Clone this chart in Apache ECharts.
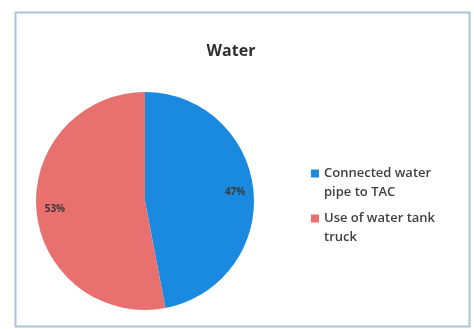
<!DOCTYPE html>
<html><head><meta charset="utf-8">
<script src="https://cdn.jsdelivr.net/npm/echarts@6/dist/echarts.min.js"></script>
<style>html,body{margin:0;padding:0;background:#fff}#c{width:474px;height:329px}</style>
</head><body><div id="c"></div>
<script>
var titleText = 'Water';
var categories = ['Connected water\npipe to TAC', 'Use of water tank\ntruck'];
var values = [47, 53];
var colors = ['#1a8ae0', '#e8716f'];

var chart = echarts.init(document.getElementById('c'), null, {renderer: 'canvas'});
var data = categories.map(function (c, i) { return {name: c, value: values[i], itemStyle: {color: colors[i]}}; });
chart.setOption({
  animation: false,
  backgroundColor: '#fff',
  graphic: [{type: 'rect', shape: {x: 15.5, y: 12.5, width: 454, height: 314}, style: {fill: 'none', stroke: '#a9c4da', lineWidth: 2}, z: -1}],
  title: {text: titleText, left: 226, top: 38, textAlign: 'center',
    textStyle: {fontFamily: 'Open Sans', fontSize: 16, fontWeight: 'bold', color: '#2f2f2f'}},
  legend: {orient: 'vertical', left: 306, top: 140, itemWidth: 8, itemHeight: 8, itemGap: -12, icon: 'rect',
    formatter: function (name) { return '\n' + name; },
    textStyle: {fontFamily: 'Open Sans', fontSize: 13, fontWeight: 600, color: '#404040', lineHeight: 19}},
  series: [
    {type: 'pie', center: [145, 201], radius: [0, 109], startAngle: 90, clockwise: true,
     label: {show: false}, labelLine: {show: false}, data: data},
    {type: 'pie', center: [145, 201], radius: [66, 109], startAngle: 90, clockwise: true, silent: true,
     legendHoverLink: false,
     itemStyle: {color: 'rgba(0,0,0,0)'},
     label: {show: true, position: 'inside', formatter: '{d}%', fontFamily: 'Open Sans', fontSize: 10, fontWeight: 'bold', color: '#3a3a3a'},
     labelLine: {show: false},
     data: categories.map(function (c, i) { return {name: c, value: values[i], itemStyle: {color: 'rgba(0,0,0,0)'}}; })}
  ]
});
</script></body></html>
